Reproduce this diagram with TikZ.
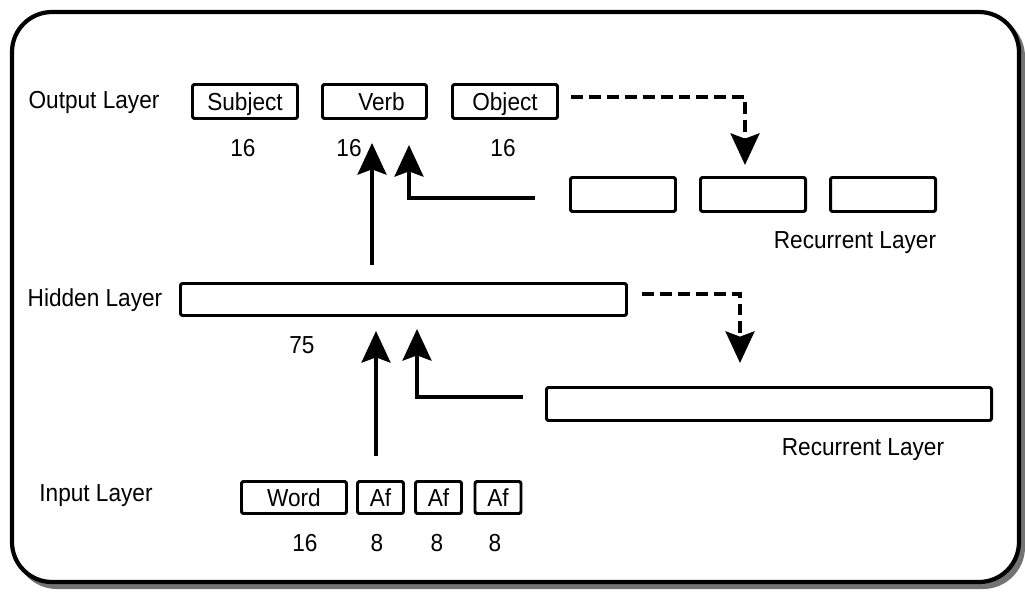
\documentclass[tikz,border=0pt]{standalone}
\usepackage{fontspec}
\setmainfont{Liberation Sans}[FakeStretch=0.92]
\usetikzlibrary{arrows.meta}
\newcommand{\pxu}{0.02cm}
\begin{document}
\begin{tikzpicture}[x=0.02cm,y=-0.02cm,
  lbl/.style={font=\fontsize{14pt}{16pt}\selectfont, inner sep=0pt},
  box/.style={draw, line width=1.7pt, rounded corners=1.2pt, inner sep=0pt,
    font=\fontsize{14pt}{16pt}\selectfont, fill=white, text height=10pt, text depth=0.3pt},
  arr/.style={line width=2pt, -{Stealth[length=18pt,width=16.5pt,inset=3pt]}},
  darr/.style={arr, dash pattern=on 6.8pt off 3.4pt},
]
\useasboundingbox (0,0) rectangle (1025,592);
% outer frame with shadow
\draw[line width=2.3pt, gray!90!black, fill=gray!90!black, rounded corners=0.8cm] (17,17) rectangle (1023,587);
\draw[line width=2.4pt, fill=white, rounded corners=0.8cm] (12,12) rectangle (1019,582);

% output layer
\node[lbl] (outlbl) at (94,102) {Output Layer};
\node[box, minimum width=105*\pxu, minimum height=34*\pxu] (subj) at (245,101.5) {Subject};
\node[box, minimum width=104*\pxu, minimum height=34*\pxu] (verb) at (374.5,101.5) {\hspace{8pt}Verb};
\node[box, minimum width=105*\pxu, minimum height=34*\pxu] (obj) at (505,101.5) {Object\hspace{10pt}};
\node[lbl] (n1) at (243,148) {16};
\node[lbl] (n2) at (349,148) {16};
\node[lbl] (n3) at (503,148) {16};

% recurrent top
\node[box, minimum width=105*\pxu, minimum height=34*\pxu] (r1) at (623,194.5) {};
\node[box, minimum width=105*\pxu, minimum height=34*\pxu] (r2) at (753,194.5) {};
\node[box, minimum width=105*\pxu, minimum height=34*\pxu] (r3) at (883,194.5) {};
\node[lbl] (rlbl1) at (855,243) {Recurrent Layer};

% hidden layer
\node[lbl] (hidlbl) at (95,300) {Hidden Layer};
\node[box, minimum width=446*\pxu, minimum height=32*\pxu] (hid) at (403.5,299.5) {};
\node[lbl] (n75) at (302,345) {75};

% recurrent bottom
\node[box, minimum width=445*\pxu, minimum height=33*\pxu] (rb) at (769,404) {};
\node[lbl] (rlbl2) at (863,450) {Recurrent Layer};

% input layer
\node[lbl] (inlbl) at (96,496) {Input Layer};
\node[box, minimum width=105*\pxu, minimum height=32*\pxu] (word) at (294,497.5) {Word};
\node[box, minimum width=46*\pxu, minimum height=32*\pxu] (af1) at (380.5,497.5) {Af};
\node[box, minimum width=46*\pxu, minimum height=32*\pxu] (af2) at (438.5,497.5) {Af};
\node[box, minimum width=46*\pxu, minimum height=32*\pxu] (af3) at (498,497.5) {Af};
\node[lbl] (n16b) at (305,543) {16};
\node[lbl] (n8a) at (377,543) {8};
\node[lbl] (n8b) at (437,543) {8};
\node[lbl] (n8c) at (495,543) {8};

% connector coordinates
\coordinate (a1s) at (376,456);
\coordinate (a1e) at (376,331);
\coordinate (a2s) at (523,397);
\coordinate (a2e) at (417,329);
\coordinate (a3s) at (372,265);
\coordinate (a3e) at (372,143);
\coordinate (a4s) at (535,198);
\coordinate (a4e) at (409,145);
\coordinate (d1s) at (571,97);
\coordinate (d1e) at (745,165);
\coordinate (d2s) at (642,294);
\coordinate (d2e) at (740,363);

\draw[arr] (a1s) -- (a1e);
\draw[arr] (a2s) -| (a2e);
\draw[arr] (a3s) -- (a3e);
\draw[arr] (a4s) -| (a4e);
\draw[darr] (d1s) -| (d1e);
\draw[darr] (d2s) -| (d2e);
\end{tikzpicture}
\end{document}
